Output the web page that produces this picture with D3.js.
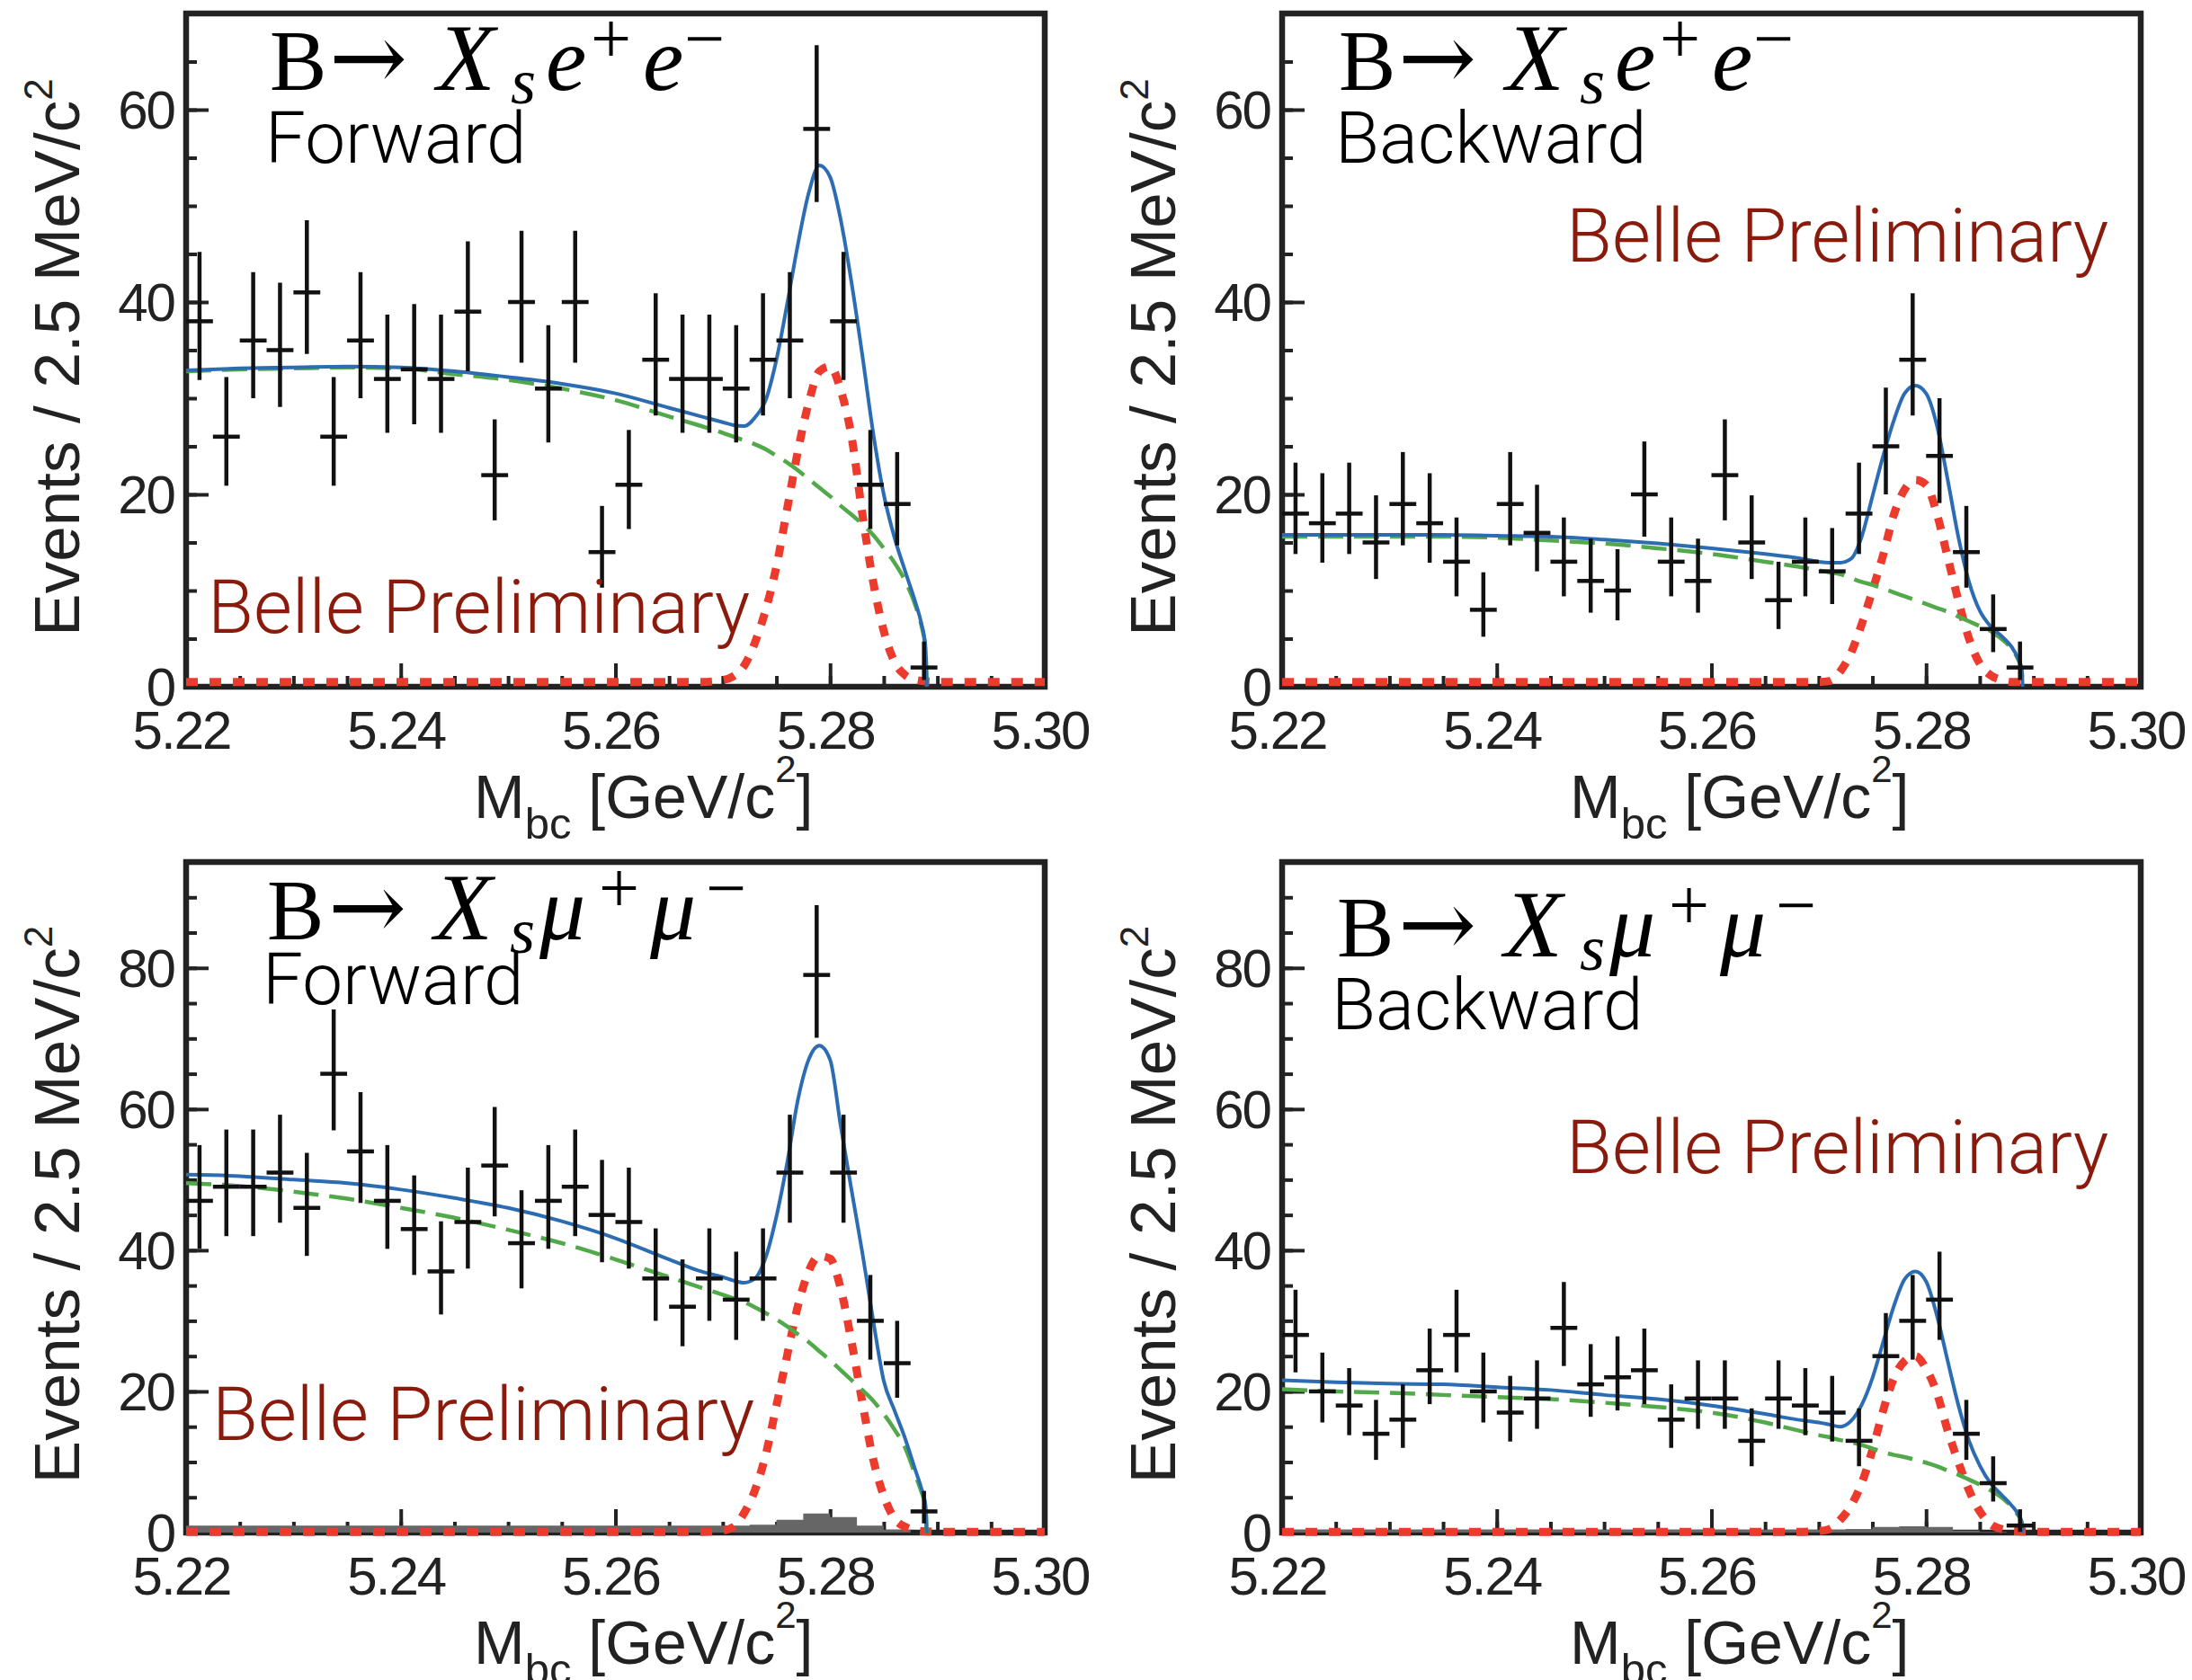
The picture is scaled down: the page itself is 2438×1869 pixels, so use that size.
<!DOCTYPE html>
<html>
<head>
<meta charset="utf-8">
<script src="https://cdn.jsdelivr.net/npm/d3@7"></script>
<style>
  html, body { margin: 0; padding: 0; background: #fff; }
  svg { display: block; }
</style>
</head>
<body>
<div id="chart"></div>
<script>
// bin centres of the Mbc histograms (2.5 MeV/c^2 bins, 5.22 - 5.29)
var binCenters = [5.22125, 5.22375, 5.22625, 5.22875, 5.23125, 5.23375, 5.23625, 5.23875,
  5.24125, 5.24375, 5.24625, 5.24875, 5.25125, 5.25375, 5.25625, 5.25875, 5.26125, 5.26375,
  5.26625, 5.26875, 5.27125, 5.27375, 5.27625, 5.27875, 5.28125, 5.28375, 5.28625, 5.28875];
var binHalfWidth = 0.00125;

var xTickValues = [5.22, 5.24, 5.26, 5.28, 5.30];
var xTickLabels = ["5.22", "5.24", "5.26", "5.28", "5.30"];
var yTicksEe = [0, 20, 40, 60];
var yTicksMm = [0, 20, 40, 60, 80];

// data points (counts and asymmetric Poisson errors)
var eeFwdCounts = [38,26,36,35,41,26,36,32,33,32,39,22,40,31,40,14,21,34,32,32,31,34,36,58,38,21,19,2];
var eeFwdErrHi = [7.2,6.2,7.1,7.0,7.5,6.2,7.1,6.7,6.8,6.7,7.3,5.8,7.4,6.6,7.4,4.8,5.7,6.9,6.7,6.7,6.6,6.9,7.1,8.7,7.2,5.7,5.4,2.7];
var eeFwdErrLo = [6.1,5.1,6.0,5.9,6.4,5.1,6.0,5.6,5.7,5.6,6.2,4.7,6.3,5.6,6.3,3.7,4.6,5.8,5.6,5.6,5.6,5.8,6.0,7.6,6.1,4.6,4.3,1.3];

var eeBwdCounts = [18,17,18,15,19,17,13,8,19,16,13,11,10,20,13,11,22,15,9,13,12,18,25,34,24,14,6,2];
var eeBwdErrHi = [5.3,5.2,5.3,4.9,5.4,5.2,4.6,3.9,5.4,5.0,4.6,4.4,4.3,5.5,4.6,4.4,5.8,4.9,4.0,4.6,4.5,5.3,6.1,6.9,6.0,4.8,3.6,2.7];
var eeBwdErrLo = [4.2,4.1,4.2,3.8,4.3,4.1,3.6,2.8,4.3,4.0,3.6,3.3,3.1,4.4,3.6,3.3,4.7,3.8,3.0,3.6,3.4,4.2,5.0,5.8,4.9,3.7,2.4,1.3];

var mmFwdCounts = [47,49,49,51,46,65,54,47,43,37,44,52,41,47,49,45,44,36,32,36,33,36,51,79,51,30,24,3];
var mmFwdErrHi = [7.9,8.1,8.1,8.2,7.8,9.1,8.4,7.9,7.6,7.1,7.7,8.3,7.5,7.9,8.1,7.8,7.7,7.1,6.7,7.1,6.8,7.1,8.2,9.9,8.2,6.5,6.0,2.9];
var mmFwdErrLo = [6.8,7.0,7.0,7.1,6.8,8.0,7.3,6.8,6.5,6.1,6.6,7.2,6.4,6.8,7.0,6.7,6.6,6.0,5.6,6.0,5.7,6.0,7.1,8.9,7.1,5.5,4.9,1.7];

var mmBwdCounts = [28,20,18,14,16,23,28,20,17,19,29,21,22,23,16,19,19,13,19,18,17,13,25,30,33,14,7,1];
var mmBwdErrHi = [6.4,5.5,5.3,4.8,5.0,5.9,6.4,5.5,5.2,5.4,6.5,5.7,5.8,5.9,5.0,5.4,5.4,4.6,5.4,5.3,5.2,4.6,6.1,6.5,6.8,4.8,3.8,2.3];
var mmBwdErrLo = [5.3,4.4,4.2,3.7,4.0,4.8,5.3,4.4,4.1,4.3,5.4,4.6,4.7,4.8,4.0,4.3,4.3,3.6,4.3,4.2,4.1,3.6,5.0,5.5,5.7,3.7,2.6,0.9];

// fit curves, sampled from the figure
var fitX = [5.220,5.225,5.230,5.235,5.240,5.245,5.250,5.255,5.260,5.265,5.268,5.270,5.271,5.272,5.273,5.274,
  5.275,5.276,5.277,5.278,5.279,5.280,5.281,5.282,5.283,5.284,5.285,5.286,5.287,5.288,5.2885,5.2889,5.289];

var eeFwdBkg = [32.8,33.0,33.1,33.2,33.1,32.5,31.9,31.0,29.8,28.1,27.1,26.4,26.0,25.6,25.2,24.7,
  24.0,23.3,22.5,21.6,20.7,19.8,18.8,17.9,16.9,15.8,14.4,12.9,11.0,8.3,6.4,3.8,0];
var eeFwdTotal = [32.9,33.1,33.2,33.3,33.2,32.8,32.2,31.5,30.5,29.0,28.1,27.5,27.2,27.1,28.0,29.8,
  34.0,39.8,46.0,51.3,54.2,53.0,48.5,42.0,34.5,26.5,20.0,15.5,12.0,8.6,6.6,4.0,0];

var eeBwdBkg = [15.6,15.6,15.6,15.6,15.5,15.2,14.9,14.4,13.8,13.0,12.5,12.1,11.9,11.7,11.3,10.9,
  10.6,10.2,9.8,9.4,9.0,8.6,8.2,7.8,7.3,6.8,6.3,5.8,5.0,3.9,3.0,1.8,0];
var eeBwdTotal = [15.8,15.8,15.8,15.8,15.7,15.6,15.3,14.9,14.4,13.8,13.4,13.0,12.9,12.9,13.3,15.6,
  19.8,24.0,27.7,30.5,31.3,30.5,27.2,21.6,15.6,10.9,7.9,6.3,5.3,4.1,3.1,1.9,0];

var mmFwdBkg = [49.5,49.1,48.3,47.3,46.0,44.6,42.9,41.0,38.7,36.2,34.7,33.7,33.2,32.7,31.9,31.1,
  30.2,29.2,28.1,27.0,25.7,24.4,23.0,21.6,20.2,18.7,16.8,14.6,12.0,7.9,5.8,3.5,0];
var mmFwdTotal = [50.7,50.5,50.0,49.5,48.6,47.4,46.0,44.1,41.7,38.7,37.0,36.2,35.7,35.4,36.0,39.0,
  44.8,52.4,61.3,67.0,69.0,67.0,57.5,48.5,39.7,30.2,21.5,17.3,13.3,8.6,6.3,3.8,0];

var mmBwdBkg = [20.3,20.0,19.8,19.5,19.2,18.9,18.4,17.8,17.0,15.6,14.5,13.8,13.5,13.1,12.8,12.4,
  11.9,11.4,11.0,10.7,10.3,9.9,9.4,8.8,8.2,7.5,6.8,6.0,5.0,3.6,2.6,1.5,0];
var mmBwdTotal = [21.6,21.3,21.1,21.0,20.6,20.2,19.5,18.9,18.0,16.8,16.0,15.6,15.3,15.0,15.8,18.1,
  21.9,27.0,32.1,35.9,37.0,35.6,30.8,24.4,18.1,13.0,9.5,7.0,5.4,3.8,2.8,1.6,0];

var sigX = [5.220,5.266,5.268,5.270,5.271,5.272,5.273,5.274,5.275,5.276,5.277,5.278,5.279,5.280,
  5.281,5.282,5.283,5.284,5.285,5.286,5.287,5.288,5.290,5.300];
var eeFwdSig = [0.5,0.5,0.5,0.7,1.1,2.2,4.6,8.0,12.5,18.5,24.5,29.5,32.8,33.3,30.8,26.0,18.0,11.0,5.8,2.6,1.2,0.7,0.5,0.5];
var eeBwdSig = [0.5,0.5,0.5,0.5,0.6,1.6,3.5,6.5,10.0,13.7,17.9,20.5,21.5,21.0,18.0,13.5,9.0,5.0,2.4,1.2,0.7,0.5,0.5,0.5];
var mmFwdSig = [0.1,0.1,0.1,0.3,0.8,2.8,6.0,11.0,18.0,25.1,32.1,37.0,39.2,38.8,34.5,27.0,18.5,10.5,5.2,2.0,0.8,0.3,0.1,0.1];
var mmBwdSig = [0.1,0.1,0.1,0.2,0.5,1.8,3.8,7.0,11.7,17.3,21.9,24.3,25.0,23.2,19.8,14.5,10.0,6.0,3.0,1.2,0.5,0.2,0.1,0.1];

// peaking background histograms (grey) of the muon channel
var mmFwdPeaking = [1.0,1.0,1.0,1.0,1.0,1.0,1.0,1.0,1.0,1.0,1.0,1.0,1.0,1.0,1.0,1.0,1.0,1.0,1.0,1.0,1.0,1.1,1.8,2.7,2.2,1.0,0.4,0.0];
var mmBwdPeaking = [0.4,0.4,0.4,0.4,0.4,0.4,0.4,0.4,0.4,0.4,0.4,0.4,0.4,0.4,0.4,0.4,0.4,0.4,0.4,0.4,0.4,0.5,0.8,0.9,0.8,0.3,0.1,0.0];

var W = 2438, H = 1869;
var axisFont = "'Liberation Sans', Arial, sans-serif";
var textFont = "Roboto, 'Open Sans', sans-serif";
var serifFont = "'Liberation Serif', 'DejaVu Serif', serif";

// glyphs of the decay title "B-> X_s l+ l-" (offset from its start, size, shift)
var titleGlyphsE = [
  {t: "B", dx: 0, size: 95}, {t: "\u2192", dx: 66, size: 104, arrow: true},
  {t: "X", dx: 186, size: 106, it: true}, {t: "s", dx: 268, size: 72, it: true, dy: 15},
  {t: "e", dx: 307, size: 102, it: true}, {t: "+", dx: 357, size: 80, dy: -30},
  {t: "e", dx: 415, size: 102, it: true}, {t: "\u2212", dx: 461, size: 80, dy: -30}];
var titleGlyphsMu = [
  {t: "B", dx: 0, size: 95}, {t: "\u2192", dx: 68, size: 104, arrow: true},
  {t: "X", dx: 186, size: 106, it: true}, {t: "s", dx: 270, size: 72, it: true, dy: 15},
  {t: "\u03bc", dx: 303, size: 102, it: true}, {t: "+", dx: 369, size: 80, dy: -30},
  {t: "\u03bc", dx: 426, size: 102, it: true}, {t: "\u2212", dx: 488, size: 80, dy: -30}];

var panels = [
  {glyphs: titleGlyphsE, side: "Forward", counts: eeFwdCounts, hi: eeFwdErrHi, lo: eeFwdErrLo, bkg: eeFwdBkg, tot: eeFwdTotal, sig: eeFwdSig, peak: null,
   yMax: 70, yTicks: yTicksEe, left: 207, right: 1162, top: 15, bottom: 764,
   title: [300, 100], sideAt: [295, 181], belle: [231, 704]},
  {glyphs: titleGlyphsE, side: "Backward", counts: eeBwdCounts, hi: eeBwdErrHi, lo: eeBwdErrLo, bkg: eeBwdBkg, tot: eeBwdTotal, sig: eeBwdSig, peak: null,
   yMax: 70, yTicks: yTicksEe, left: 1426, right: 2381, top: 15, bottom: 764,
   title: [1489, 100], sideAt: [1485, 181], belle: [1742, 291]},
  {glyphs: titleGlyphsMu, side: "Forward", counts: mmFwdCounts, hi: mmFwdErrHi, lo: mmFwdErrLo, bkg: mmFwdBkg, tot: mmFwdTotal, sig: mmFwdSig, peak: mmFwdPeaking,
   yMax: 95, yTicks: yTicksMm, left: 207, right: 1162, top: 959, bottom: 1705,
   title: [297, 1045], sideAt: [292, 1117], belle: [236, 1602]},
  {glyphs: titleGlyphsMu, side: "Backward", counts: mmBwdCounts, hi: mmBwdErrHi, lo: mmBwdErrLo, bkg: mmBwdBkg, tot: mmBwdTotal, sig: mmBwdSig, peak: mmBwdPeaking,
   yMax: 95, yTicks: yTicksMm, left: 1426, right: 2381, top: 959, bottom: 1705,
   title: [1487, 1064], sideAt: [1481, 1145], belle: [1742, 1305]}
];

var svg = d3.select("#chart").append("svg")
  .attr("width", W)
  .attr("height", H);

svg.append("rect").attr("width", W).attr("height", H).attr("fill", "#fff");

panels.forEach(drawPanel);

function drawPanel(p) {
  var x = d3.scaleLinear().domain([5.22, 5.30]).range([p.left, p.right]);
  var y = d3.scaleLinear().domain([0, p.yMax]).range([p.bottom, p.top]);
  var g = svg.append("g");

  // frame
  g.append("rect")
    .attr("x", p.left).attr("y", p.top)
    .attr("width", p.right - p.left).attr("height", p.bottom - p.top)
    .attr("fill", "none").attr("stroke", "#222").attr("stroke-width", 6.5);

  // ticks (inside the frame)
  var tickAxes = [
    [d3.axisBottom(x).tickValues(x.ticks(16)).tickSize(-12), "translate(0," + p.bottom + ")"],
    [d3.axisBottom(x).tickValues(xTickValues).tickSize(-26), "translate(0," + p.bottom + ")"],
    [d3.axisLeft(y).tickValues(y.ticks(p.yMax / 5)).tickSize(-12), "translate(" + p.left + ",0)"],
    [d3.axisLeft(y).tickValues(p.yTicks).tickSize(-25), "translate(" + p.left + ",0)"]
  ];
  tickAxes.forEach(function(a) {
    var ax = g.append("g").attr("transform", a[1])
      .call(a[0].tickFormat(""));
    ax.select(".domain").remove();
    ax.selectAll("line").attr("stroke", "#222").attr("stroke-width", 4);
  });

  // tick labels
  g.selectAll(".xlab").data(xTickValues).enter().append("text")
    .attr("x", function(d) { return x(d) - 5; })
    .attr("y", p.bottom + 69)
    .attr("text-anchor", "middle")
    .attr("font-family", axisFont).attr("font-size", 60)
    .attr("letter-spacing", -2).attr("fill", "#222")
    .text(function(d, i) { return xTickLabels[i]; });

  g.selectAll(".ylab").data(p.yTicks).enter().append("text")
    .attr("x", p.left - 13)
    .attr("y", function(d) { return y(d) + 21; })
    .attr("text-anchor", "end")
    .attr("font-family", axisFont).attr("font-size", 60)
    .attr("letter-spacing", -2).attr("fill", "#222")
    .text(function(d) { return d; });

  // axis titles
  var yt = g.append("text")
    .attr("transform", "translate(" + (p.left - 119) + "," + ((p.top + p.bottom) / 2 + 8) + ") rotate(-90)")
    .attr("text-anchor", "middle")
    .attr("font-family", axisFont).attr("font-size", 71).attr("fill", "#222");
  yt.append("tspan").text("Events / 2.5 MeV/c");
  yt.append("tspan").attr("font-size", 44).attr("dy", -30).text("2");

  var xt = g.append("text")
    .attr("x", p.left + 320).attr("y", p.bottom + 146)
    .attr("font-family", axisFont).attr("font-size", 68).attr("fill", "#222");
  xt.append("tspan").text("M");
  xt.append("tspan").attr("font-size", 49).attr("dy", 23).text("bc");
  xt.append("tspan").attr("dy", -23).text(" [GeV/c");
  xt.append("tspan").attr("font-size", 42).attr("dy", -40).text("2");
  xt.append("tspan").attr("dy", 40).text("]");

  // peaking background histogram
  if (p.peak) {
    var steps = [];
    binCenters.forEach(function(c, i) {
      steps.push([c - binHalfWidth, p.peak[i]]);
      steps.push([c + binHalfWidth, p.peak[i]]);
    });
    g.append("path")
      .datum(steps)
      .attr("fill", "#666")
      .attr("d", d3.area()
        .x(function(d) { return x(d[0]); })
        .y0(y(0))
        .y1(function(d) { return y(d[1]); }));
  }

  var line = d3.line()
    .x(function(d) { return x(d[0]); })
    .y(function(d) { return y(d[1]); })
    .curve(d3.curveMonotoneX);

  // signal (red dotted)
  g.append("path")
    .datum(d3.zip(sigX, p.sig))
    .attr("fill", "none").attr("stroke", "#ec3a2c")
    .attr("stroke-width", 9).attr("stroke-dasharray", "13,13")
    .attr("d", line);

  // background (green dashed)
  g.append("path")
    .datum(d3.zip(fitX, p.bkg))
    .attr("fill", "none").attr("stroke", "#52a94a")
    .attr("stroke-width", 4.5).attr("stroke-dasharray", "28,12")
    .attr("d", line);

  // total fit (blue)
  g.append("path")
    .datum(d3.zip(fitX, p.tot))
    .attr("fill", "none").attr("stroke", "#2b6cb3")
    .attr("stroke-width", 4)
    .attr("d", line);

  // data points with error bars
  var pts = g.selectAll(".pt").data(binCenters).enter().append("g");
  pts.append("line")
    .attr("x1", function(d) { return x(d); })
    .attr("x2", function(d) { return x(d); })
    .attr("y1", function(d, i) { return y(p.counts[i] - p.lo[i]); })
    .attr("y2", function(d, i) { return y(p.counts[i] + p.hi[i]); })
    .attr("stroke", "#111").attr("stroke-width", 4.5);
  pts.append("line")
    .attr("x1", function(d) { return x(d - binHalfWidth); })
    .attr("x2", function(d) { return x(d + binHalfWidth); })
    .attr("y1", function(d, i) { return y(p.counts[i]); })
    .attr("y2", function(d, i) { return y(p.counts[i]); })
    .attr("stroke", "#111").attr("stroke-width", 4.5);

  // decay title, one tspan per glyph
  var t = g.append("text")
    .attr("y", p.title[1])
    .attr("font-family", serifFont).attr("font-size", 95).attr("fill", "#000");
  p.glyphs.forEach(function(gl) {
    var s = t.append("tspan")
      .attr("x", p.title[0] + gl.dx)
      .attr("y", p.title[1] + (gl.dy || 0))
      .attr("font-size", gl.size)
      .text(gl.t);
    if (gl.it) s.attr("font-style", "italic");
    if (gl.arrow) s.attr("font-family", "'DejaVu Serif', serif");
  });

  g.append("text")
    .attr("x", p.sideAt[0]).attr("y", p.sideAt[1])
    .attr("font-family", textFont).attr("font-weight", 300)
    .attr("font-size", 80).attr("fill", "#000")
    .text(p.side);

  g.append("text")
    .attr("x", p.belle[0]).attr("y", p.belle[1])
    .attr("font-family", textFont).attr("font-weight", 300)
    .attr("font-size", 83).attr("fill", "#8a1a0c")
    .text("Belle Preliminary");
}
</script>
</body>
</html>
